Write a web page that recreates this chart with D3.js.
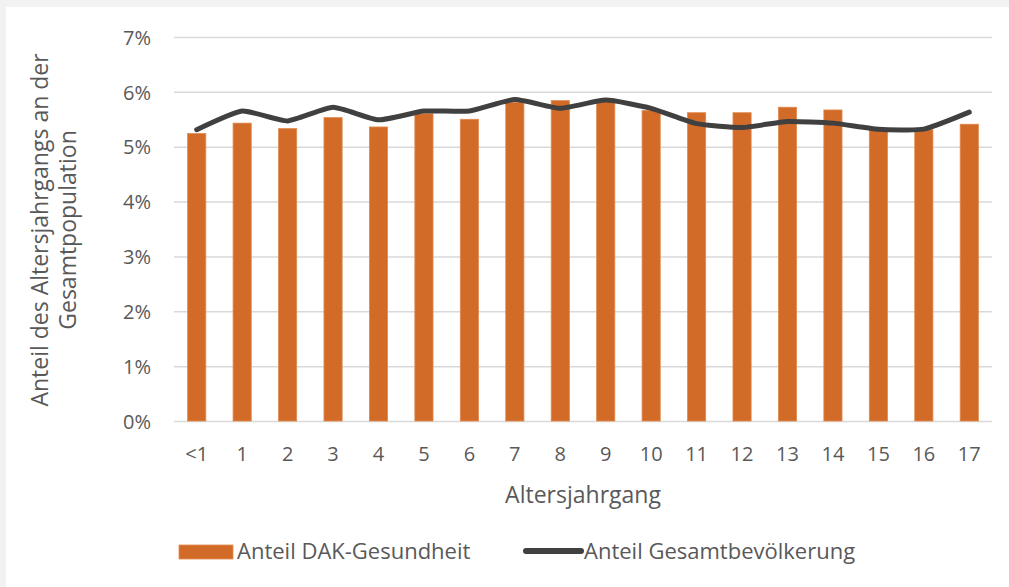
<!DOCTYPE html>
<html>
<head>
<meta charset="utf-8">
<script src="https://cdn.jsdelivr.net/npm/d3@7"></script>
<style>
  html, body { margin: 0; padding: 0; background: #f2f2f2; }
  text { font-family: "Open Sans", "Noto Sans", sans-serif; fill: #595959; }
</style>
</head>
<body>
<div id="wrapper"></div>
<script>
const ages = ["<1","1","2","3","4","5","6","7","8","9","10","11","12","13","14","15","16","17"];
const dakShare = [5.24,5.43,5.33,5.53,5.36,5.60,5.50,5.81,5.84,5.82,5.66,5.62,5.62,5.72,5.67,5.30,5.31,5.41];
const popShare = [5.31,5.65,5.47,5.72,5.49,5.65,5.65,5.86,5.70,5.85,5.70,5.42,5.35,5.46,5.43,5.32,5.32,5.63];
const yTicks = [0,1,2,3,4,5,6,7];
const seriesNames = ["Anteil DAK-Gesundheit", "Anteil Gesamtbevölkerung"];

function build() {
  const dimension = {
    width: 1009,
    height: 587,
    margin: { top: 37, right: 17, bottom: 166, left: 174 },
  };
  dimension.boundedWidth = dimension.width - dimension.margin.left - dimension.margin.right;
  dimension.boundedHeight = dimension.height - dimension.margin.top - dimension.margin.bottom;

  const svg = d3.select("#wrapper")
    .append("svg")
    .attr("width", dimension.width)
    .attr("height", dimension.height)
    .style("display", "block");

  // white panel inside the grey frame
  svg.append("rect")
    .attr("x", 6).attr("y", 7)
    .attr("width", dimension.width - 6)
    .attr("height", dimension.height - 7)
    .attr("fill", "#fff");

  const x = d3.scaleBand()
    .domain(ages)
    .range([0, dimension.boundedWidth])
    .paddingInner(0.6)
    .paddingOuter(0.3);

  const y = d3.scaleLinear()
    .domain([0, 7])
    .range([dimension.boundedHeight, 0]);

  const bounds = svg.append("g")
    .attr("transform", `translate(${dimension.margin.left},${dimension.margin.top})`);

  // gridlines + y labels
  const yAxis = bounds.append("g")
    .call(d3.axisLeft(y).tickValues(yTicks).tickSize(-dimension.boundedWidth).tickFormat(d => d + "%"))
    .call(g => g.select(".domain").remove());
  yAxis.selectAll("line").attr("stroke", "#d9d9d9").attr("stroke-width", 1.5);
  yAxis.selectAll("text")
    .attr("x", -23)
    .attr("dy", "0.36em")
    .style("font-size", "20px")
    .style("font-family", "'Open Sans', sans-serif")
    .attr("fill", "#595959");

  // bars
  bounds.selectAll("rect.bar")
    .data(ages)
    .enter()
    .append("rect")
    .attr("class", "bar")
    .attr("x", d => x(d))
    .attr("width", x.bandwidth())
    .attr("y", (d, i) => y(dakShare[i]))
    .attr("height", (d, i) => y(0) - y(dakShare[i]))
    .attr("fill", "#d26b27")
    .attr("stroke", "#e08a4f")
    .attr("stroke-width", 0.8);

  // line
  const line = d3.line()
    .x((d, i) => x(ages[i]) + x.bandwidth() / 2)
    .y(d => y(d))
    .curve(d3.curveCardinal.tension(0.5));

  bounds.append("path")
    .datum(popShare)
    .attr("d", line)
    .attr("fill", "none")
    .attr("stroke", "#404040")
    .attr("stroke-width", 5)
    .attr("stroke-linecap", "round")
    .attr("stroke-linejoin", "round");

  // x axis labels
  const xAxis = bounds.append("g")
    .attr("transform", `translate(0,${dimension.boundedHeight})`)
    .call(d3.axisBottom(x).tickSize(0))
    .call(g => g.select(".domain").remove());
  xAxis.selectAll("text")
    .attr("y", 26)
    .style("font-size", "20px")
    .style("font-family", "'Open Sans', sans-serif")
    .attr("fill", "#595959");

  // axis titles
  svg.append("text")
    .attr("x", dimension.margin.left + dimension.boundedWidth / 2)
    .attr("y", 503)
    .attr("text-anchor", "middle")
    .style("font-size", "23px")
    .text("Altersjahrgang");

  const yTitle = svg.append("text")
    .attr("transform", "translate(48,230) rotate(-90)")
    .attr("text-anchor", "middle")
    .style("font-size", "23px");
  yTitle.append("tspan").attr("x", 0).attr("y", 0).text("Anteil des Altersjahrgangs an der");
  yTitle.append("tspan").attr("x", 0).attr("y", 28).text("Gesamtpopulation");

  // legend
  const legend = svg.append("g");
  legend.append("rect")
    .attr("x", 179).attr("y", 545)
    .attr("width", 54).attr("height", 14)
    .attr("fill", "#d26b27")
    .attr("stroke", "#e08a4f")
    .attr("stroke-width", 0.8);
  legend.append("text")
    .attr("x", 237).attr("y", 559)
    .style("font-size", "22px")
    .text(seriesNames[0]);
  legend.append("line")
    .attr("x1", 526).attr("x2", 581)
    .attr("y1", 551).attr("y2", 551)
    .attr("stroke", "#404040")
    .attr("stroke-width", 6)
    .attr("stroke-linecap", "round");
  legend.append("text")
    .attr("x", 584).attr("y", 559)
    .style("font-size", "22px")
    .text(seriesNames[1]);
}

build();
</script>
</body>
</html>
